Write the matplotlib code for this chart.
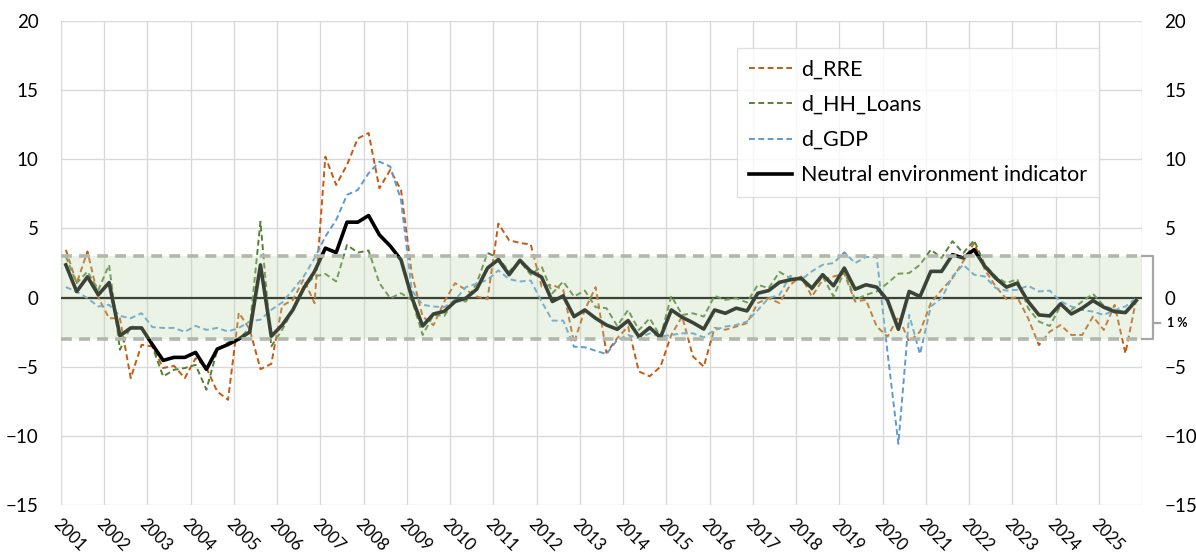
import matplotlib
matplotlib.use("Agg")
import matplotlib.pyplot as plt
import numpy as np

plt.rcParams['font.family'] = ['Lato', 'DejaVu Sans']

# quarterly data, 2001Q1 .. 2025Q4
first_year = 2001
last_year = 2025

d_rre = [3.45, 1.04, 3.33, 0.0, -1.5, -1.5, -5.83, -3.42, -3.54, -5.1,
         -4.94, -5.83, -4.39, -5.1, -6.8, -7.4, -1.1, -2.3, -5.18, -4.8,
         -0.6, -0.17, 1.33, -0.41, 10.19, 8.14, 9.59, 11.5, 11.9, 7.9,
         9.23, 7.78, 1.7, -1.37, -2.0, -0.3, 1.04, 0.56, 0.07, -0.12,
         5.35, 4.14, 3.95, 3.83, 0.8, 0.92, 0.56, -3.27, -0.9, 0.75,
         -4.0, -2.94, -2.1, -5.35, -5.7, -5.0, -2.7, -1.37, -4.26, -5.0,
         -2.2, -2.33, -2.1, -1.85, -0.4, -0.05, -0.4, 0.92, 1.52, 0.07,
         1.28, 1.52, 1.72, -0.29, -0.17, -2.1, -2.83, -1.38, -3.2, -2.47,
         -0.41, 0.56, 1.4, 2.61, 3.95, 2.0, 0.8, -0.12, 0.02, -1.5,
         -3.44, -2.47, -1.99, -2.71, -2.71, -1.38, -2.35, -0.53, -4.04, -0.12]

d_hh_loans = [2.96, 1.04, 1.88, 0.55, 2.36, -3.78, -2.1, -2.2, -3.54, -5.71,
              -5.23, -5.1, -4.87, -6.67, -3.78, -3.25, -3.0, -2.2, 5.49, -3.54,
              -2.34, -0.89, 0.8, 1.52, 1.71, 1.16, 3.8, 3.25, 3.4, 1.04,
              -0.05, 0.31, -0.17, -2.71, -1.26, -1.33, -0.17, -0.29, 1.04, 3.22,
              2.86, 1.89, 2.61, 1.65, 2.25, 0.31, 1.16, 0.07, 0.5, -0.7,
              -0.77, -2.06, -0.9, -2.35, -1.5, -2.83, 0.12, -1.26, -1.14, -1.38,
              0.12, -0.17, -0.05, -0.36, 0.92, 0.68, 1.85, 1.4, 1.28, 0.56,
              1.52, 0.07, 1.89, -0.17, 0.19, 0.44, 1.04, 1.72, 1.77, 2.37,
              3.46, 2.86, 4.07, 3.22, 4.14, 2.37, 1.52, 1.04, 1.33, -0.77,
              -1.74, -2.06, -0.6, -0.9, -0.29, 0.27, -0.6, -0.9, -1.02, -0.05]

d_gdp = [0.75, 0.43, -0.05, -0.65, -0.53, -1.33, -1.5, -1.13, -2.14, -2.2,
         -2.2, -2.48, -2.05, -2.34, -2.2, -2.46, -2.2, -1.73, -1.6, -0.89,
         -0.36, 0.55, 1.52, 2.84, 4.41, 5.61, 7.42, 7.78, 8.99, 9.83,
         9.47, 7.06, 0.5, -0.53, -0.65, -0.7, -0.17, 0.75, 1.0, 1.28,
         1.96, 1.33, 1.16, 1.23, -0.29, -1.67, -1.67, -3.56, -3.6, -3.85,
         -4.09, -3.07, -2.71, -2.95, -2.59, -2.83, -2.71, -2.59, -2.59, -2.88,
         -2.35, -2.1, -1.99, -1.74, -0.9, -0.05, 0.19, 1.57, 1.28, 1.89,
         2.37, 2.49, 3.27, 2.49, 2.93, 2.93, -4.0, -10.58, -1.26, -4.09,
         -0.65, -0.05, 1.52, 2.37, 1.65, 1.52, 0.68, 0.5, 0.56, 0.85,
         0.44, 0.5, -0.29, -0.65, -0.9, -1.02, -1.26, -0.9, -0.65, -0.05]

neutral = [2.36, 0.43, 1.5, 0.2, 1.08, -2.77, -2.2, -2.2, -3.4, -4.55,
           -4.33, -4.33, -3.97, -5.2, -3.73, -3.4, -3.0, -2.5, 2.36, -2.8,
           -2.0, -0.89, 0.67, 1.88, 3.57, 3.25, 5.45, 5.45, 5.93, 4.53,
           3.73, 2.72, 0.0, -2.06, -1.19, -1.0, -0.29, -0.05, 0.6, 2.13,
           2.74, 1.65, 2.69, 1.89, 1.48, -0.29, 0.12, -1.38, -0.9, -1.5,
           -1.99, -2.3, -1.67, -2.83, -2.18, -2.88, -0.9, -1.43, -1.82, -2.28,
           -0.9, -1.14, -0.77, -0.97, 0.31, 0.5, 1.1, 1.28, 1.4, 0.68,
           1.65, 0.85, 2.13, 0.6, 0.92, 0.75, -0.2, -2.3, 0.44, 0.07,
           1.89, 1.89, 3.1, 2.86, 3.46, 2.25, 1.4, 0.75, 1.04, -0.29,
           -1.26, -1.33, -0.46, -1.19, -0.77, -0.22, -0.7, -1.02, -1.09, -0.22]

band_lo, band_hi = -3, 3
years = list(range(first_year, last_year + 2))
year_labels = [str(y) for y in range(first_year, last_year + 1)]

n = len(neutral)
x = first_year + (np.arange(n) + 0.45) / 4

fig = plt.figure(figsize=(11.96, 5.53), dpi=100)
ax = fig.add_axes([0.051, 0.087, 0.904, 0.875])

# grid
for y in years:
    ax.axvline(y, color='#d9d9d9', lw=1.0, zorder=0)
for v in range(-15, 21, 5):
    ax.axhline(v, color='#d9d9d9', lw=1.0, zorder=0)

ax.axhline(0, color='black', lw=1.6, zorder=1)

dash = (0, (3, 1.8))
ax.plot(x, d_rre, color='#c55a11', lw=1.4, ls=dash, label='d_RRE', zorder=2)
ax.plot(x, d_hh_loans, color='#548235', lw=1.4, ls=dash, label='d_HH_Loans', zorder=2)
ax.plot(x, d_gdp, color='#5b9bd5', lw=1.4, ls=dash, label='d_GDP', zorder=2)
ax.plot(x, neutral, color='black', lw=2.6, label='Neutral environment indicator', zorder=3)

# neutral band drawn over the lines (tints them)
ax.axhspan(band_lo, band_hi, color='#bfd9af', alpha=0.31, lw=0, zorder=4)
for b in (band_lo, band_hi):
    ax.axhline(b, color='#b2b7ab', lw=2.6, ls=(0, (3, 2)), zorder=5)

ax.set_xlim(first_year, last_year + 1)
ax.set_ylim(-15, 20)
ax.set_yticks(range(-15, 21, 5))
ax.set_xticks(years[:-1])
ax.set_xticklabels(year_labels, rotation=-45, ha='left', va='top',
                   rotation_mode='anchor', fontsize=12)
ax.tick_params(axis='x', length=0, pad=8)
ax.tick_params(axis='y', length=0, pad=16, labelsize=13.5)
for s in ax.spines.values():
    s.set_visible(False)

ax2 = ax.twinx()
ax2.set_ylim(-15, 20)
ax2.set_yticks(range(-15, 21, 5))
ax2.tick_params(axis='y', length=0, pad=16, labelsize=13.5)
for s in ax2.spines.values():
    s.set_visible(False)

# bracket for the band width
bx0, bx1, bx2 = last_year + 1, last_year + 1.25, last_year + 1.42
ax.plot([bx0, bx1, bx1, bx0], [band_hi, band_hi, band_lo, band_lo],
        color='#a6a6a6', lw=1.6, clip_on=False, zorder=6)
ax.plot([bx1, bx2], [-1.85, -1.85], color='#a6a6a6', lw=1.6, clip_on=False, zorder=6)
ax.text(bx2 + 0.15, -1.85, '1 %', fontsize=9, fontweight='bold', va='center',
        ha='left', clip_on=False)

leg = ax.legend(loc='upper right', bbox_to_anchor=(0.96, 0.944), borderaxespad=0,
                fontsize=15.5, frameon=True, fancybox=False, handlelength=2.0,
                labelspacing=0.7, borderpad=0.55, handletextpad=0.4)
leg.get_frame().set_edgecolor('#d9d9d9')
leg.get_frame().set_linewidth(1.0)
leg.set_zorder(10)

fig.savefig('out.png', dpi=100)
